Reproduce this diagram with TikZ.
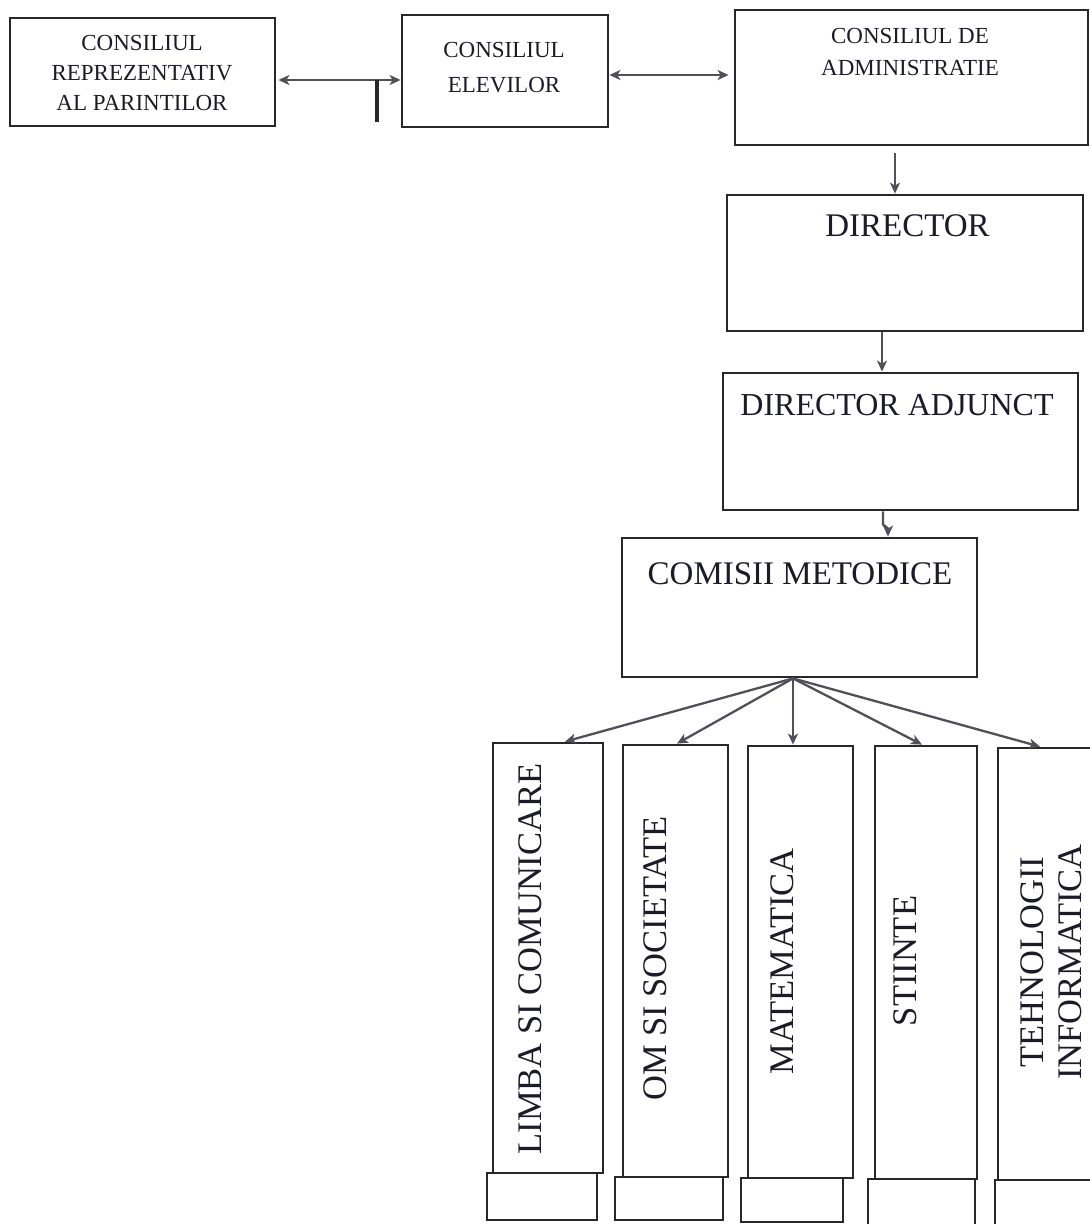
\documentclass[tikz,border=0pt]{standalone}
\usepackage{fontspec}
\setmainfont{Liberation Serif}
\usetikzlibrary{arrows.meta, calc}
\definecolor{ink}{RGB}{28,28,40}
\definecolor{edge}{RGB}{40,40,40}
\definecolor{wire}{RGB}{80,80,88}
\tikzset{box/.style = {draw = edge, line width = 2.8pt, inner sep = 0pt}}
\tikzset{wire/.style = {draw = wire, line width = 2.3pt, -{Stealth[length = 11pt, width = 10pt, inset = 3pt]}}}
\tikzset{twoway/.style = {wire, {Stealth[length = 11pt, width = 10pt, inset = 3pt]}-{Stealth[length = 11pt, width = 10pt, inset = 3pt]}}}
\tikzset{smalltext/.style = {text = ink, align = center, inner sep = 0pt, font = \fontsize{23}{30}\selectfont}}
\tikzset{bigtext/.style = {text = ink, inner sep = 0pt, font = \fontsize{33}{38}\selectfont}}
\tikzset{sidetext/.style = {text = ink, align = center, inner sep = 0pt, rotate = 90, font = \fontsize{34.5}{38}\selectfont}}

\begin{document}
\begin{tikzpicture}[x = 1pt, y = -1pt]
\useasboundingbox (0,0) rectangle (1090,1224);
\clip (0,0) rectangle (1090,1224);
\fill [white] (0,0) rectangle (1090,1224);
\node [box, minimum width = 265, minimum height = 108] (parinti) at (142.5,72) {};
\node [box, minimum width = 206, minimum height = 112] (elevi) at (505,71) {};
\node [box, minimum width = 353, minimum height = 135] (admin) at (911.5,77.5) {};
\node [box, minimum width = 356, minimum height = 136] (director) at (905,263) {};
\node [box, minimum width = 355, minimum height = 137] (adjunct) at (900.5,441.5) {};
\node [box, minimum width = 355, minimum height = 139] (comisii) at (799.5,607.5) {};
\node [smalltext] (parintitxt) at (142,72.5) {CONSILIUL\\REPREZENTATIV\\AL PARINTILOR};
\node [smalltext, font = \fontsize{23}{34.5}\selectfont] (elevitxt) at (504,67.5) {CONSILIUL\\ELEVILOR};
\node [smalltext, font = \fontsize{23}{32}\selectfont] (admintxt) at (910,51.5) {CONSILIUL DE\\ADMINISTRATIE};
\node [bigtext] (directortxt) at (907.5,226) {DIRECTOR};
\node [bigtext, font = \fontsize{32}{38}\selectfont] (adjuncttxt) at (897,405) {DIRECTOR ADJUNCT};
\node [bigtext] (comisiitxt) at (800,573.5) {COMISII METODICE};
\foreach \name/\cx/\cy/\w/\h in {limba/548/958/110/430, omsoc/675.5/961/105/432, mate/800.5/962/105/432, stiinte/926/962.5/102/433, tehno/1059/964/122/432}
\node [box, minimum width = \w, minimum height = \h] (\name) at (\cx,\cy) {};
\foreach \name/\cx/\cy/\w/\h in {limbafoot/542/1196.5/110/47, omsocfoot/669/1198.5/108/43, matefoot/792/1200/102/44, stiintefoot/921.5/1206/107/54, tehnofoot/1058/1210/126/60}
\node [box, minimum width = \w, minimum height = \h] (\name) at (\cx,\cy) {};
\node [sidetext] (limbatxt) at (530,959) {LIMBA SI COMUNICARE};
\node [sidetext] (omsoctxt) at (655,958.5) {OM SI SOCIETATE};
\node [sidetext] (matetxt) at (782,961.5) {MATEMATICA};
\node [sidetext] (stiintetxt) at (905,961) {STIINTE};
\node [sidetext] (tehnotxt) at (1051,962) {TEHNOLOGII\\INFORMATICA};
\coordinate (pa) at ([yshift = -8pt]parinti.east);
\draw [twoway, shorten < = 2pt] (pa) -- (pa -| elevi.west);
\coordinate (tee) at (377,80);
\draw [edge, line width = 4.5pt] (tee) -- ++(0,42);
\coordinate (ea) at ([yshift = -4pt]elevi.east);
\draw [twoway, shorten > = 5pt] (ea) -- (ea -| admin.west);
\coordinate (ad) at ([xshift = -16.5pt]admin.south);
\draw [wire, shorten < = 7pt] (ad) -- (ad |- director.north);
\coordinate (de) at ([xshift = -23pt]director.south);
\draw [wire] (de) -- (de |- adjunct.north);
\coordinate (ec) at ([xshift = -17.5pt]adjunct.south);
\coordinate (ecj) at ([xshift = 5pt]ec);
\draw [wire] (ec) -- ++(0,13) -- ++(5,4) -- (ecj |- comisii.north);
\coordinate (fan) at ([xshift = -6.5pt]comisii.south);
\foreach \name/\s in {limba/17, omsoc/1.5, mate/-7.5, stiinte/-4, tehno/-19}
\draw [wire] (fan) -- ([xshift = \s]\name.north);
\end{tikzpicture}
\end{document}
